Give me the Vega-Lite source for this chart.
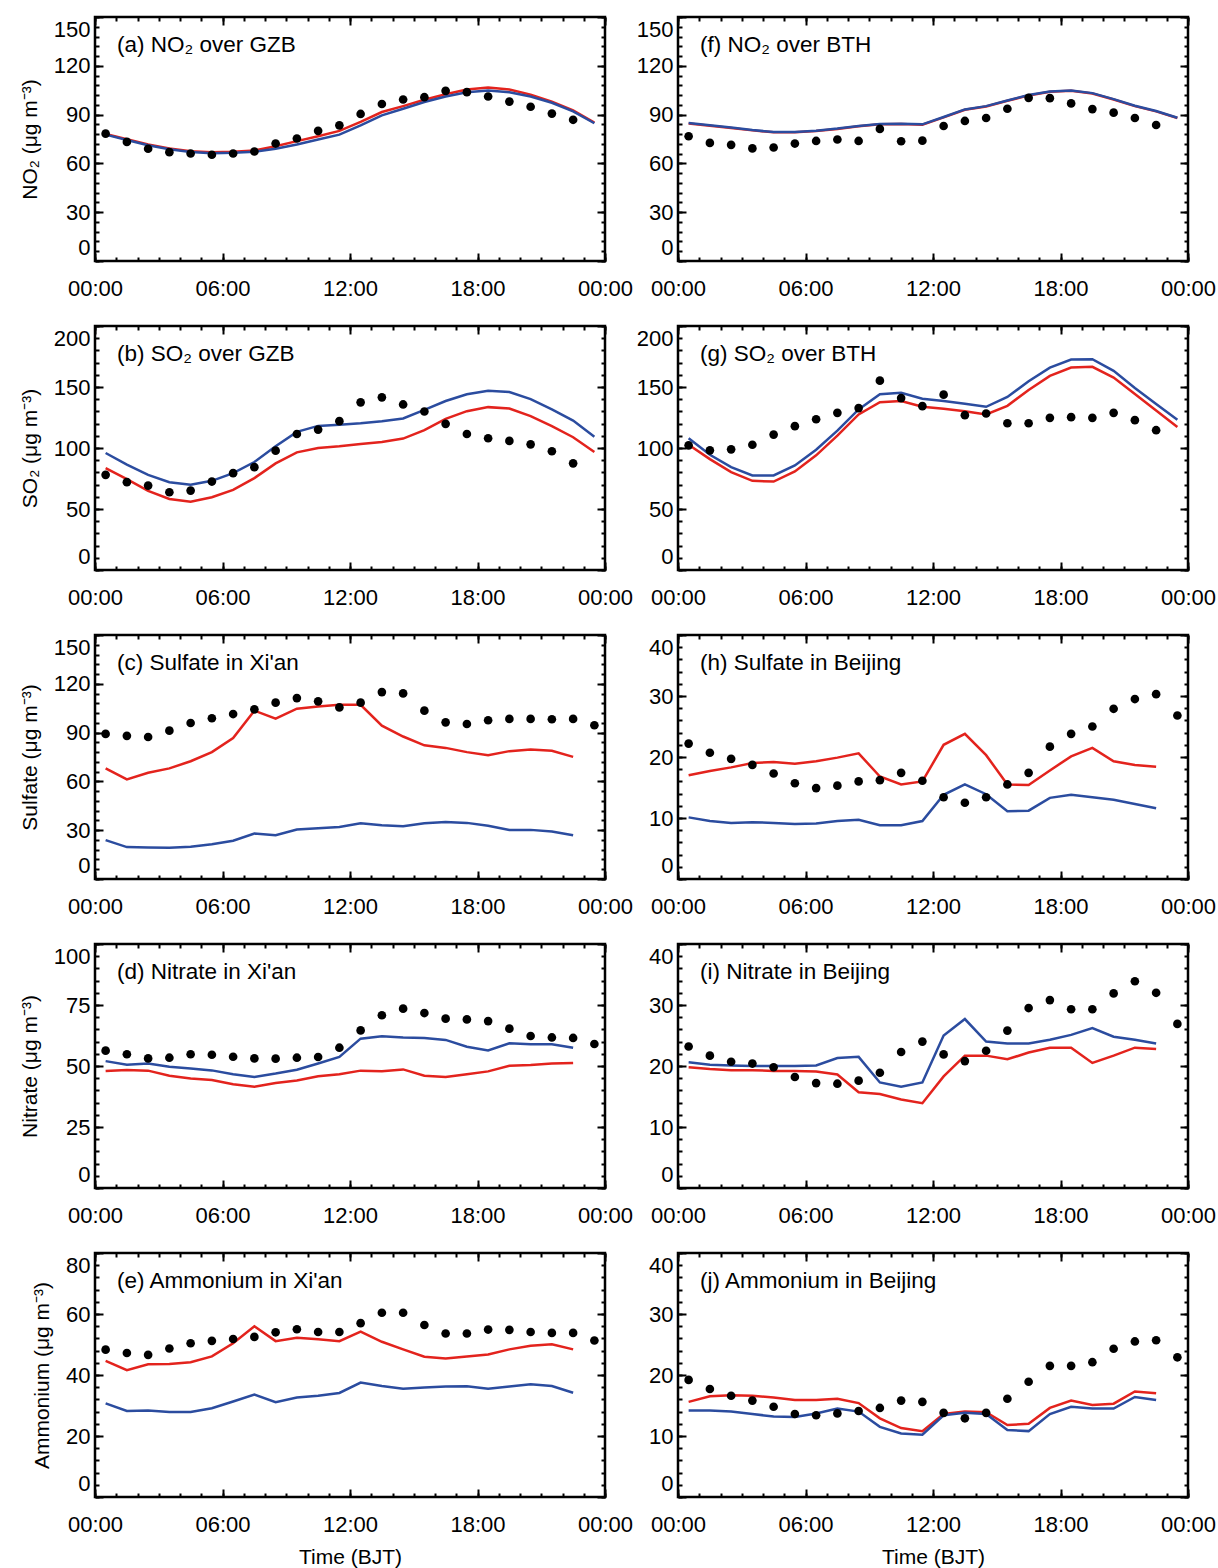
{
  "$schema": "https://vega.github.io/schema/vega-lite/v6.json",
  "background": "white",
  "padding": {"left": 18, "top": 14, "right": 0, "bottom": 0},
  "config": {
    "font": "Liberation Sans",
    "view": {"stroke": "black", "strokeWidth": 2.5},
    "axis": {"grid": false, "domain": false, "tickColor": "black", "tickWidth": 2, "labelColor": "black", "labelFont": "Liberation Sans", "labelFontSize": 22, "titleFont": "Liberation Sans", "titleFontSize": 21, "titleFontWeight": "normal", "titleColor": "black"},
    "axisX": {"labelPadding": 25, "labelFlush": false, "titlePadding": 11},
    "axisY": {"labelPadding": 13, "labelFlush": true, "labelFlushOffset": -2, "titlePadding": 13},
    "title": {"anchor": "start", "frame": "group", "offset": -40, "dx": 22, "baseline": "alphabetic", "fontSize": 22.5, "fontWeight": "normal", "font": "Liberation Sans", "color": "black"}
  },
  "datasets": {
    "d": [
      {"p":"a","h":0.5,"o":78.3,"r":78.1,"b":77.7},{"p":"a","h":1.5,"o":73.2,"r":74.9,"b":74.4},{"p":"a","h":2.5,"o":69.0,"r":71.6,"b":71.2},{"p":"a","h":3.5,"o":66.9,"r":69.2,"b":68.7},{"p":"a","h":4.5,"o":66.1,"r":67.5,"b":67.0},{"p":"a","h":5.5,"o":65.3,"r":66.9,"b":66.3},{"p":"a","h":6.5,"o":66.1,"r":67.1,"b":66.5},{"p":"a","h":7.5,"o":67.3,"r":68.0,"b":67.1},{"p":"a","h":8.5,"o":72.2,"r":70.6,"b":69.0},{"p":"a","h":9.5,"o":75.3,"r":73.7,"b":71.6},{"p":"a","h":10.5,"o":80.0,"r":76.7,"b":74.7},{"p":"a","h":11.5,"o":83.4,"r":80.0,"b":77.7},{"p":"a","h":12.5,"o":90.4,"r":85.5,"b":83.4},{"p":"a","h":13.5,"o":96.5,"r":91.6,"b":89.5},{"p":"a","h":14.5,"o":99.3,"r":95.2,"b":93.6},{"p":"a","h":15.5,"o":100.7,"r":99.1,"b":97.7},{"p":"a","h":16.5,"o":104.6,"r":102.5,"b":101.1},{"p":"a","h":17.5,"o":103.8,"r":105.4,"b":103.8},{"p":"a","h":18.5,"o":101.1,"r":106.6,"b":104.8},{"p":"a","h":19.5,"o":98.0,"r":105.4,"b":103.8},{"p":"a","h":20.5,"o":94.8,"r":102.3,"b":101.1},{"p":"a","h":21.5,"o":90.6,"r":98.0,"b":97.3},{"p":"a","h":22.5,"o":86.8,"r":92.6,"b":92.0},{"p":"a","h":23.5,"o":null,"r":85.1,"b":84.7},
      {"p":"f","h":0.5,"o":76.7,"r":84.6,"b":84.8},{"p":"f","h":1.5,"o":72.6,"r":83.2,"b":83.4},{"p":"f","h":2.5,"o":71.4,"r":81.8,"b":82.0},{"p":"f","h":3.5,"o":69.2,"r":80.3,"b":80.5},{"p":"f","h":4.5,"o":69.8,"r":79.1,"b":79.3},{"p":"f","h":5.5,"o":72.2,"r":79.1,"b":79.3},{"p":"f","h":6.5,"o":73.8,"r":79.9,"b":80.1},{"p":"f","h":7.5,"o":74.7,"r":81.2,"b":81.4},{"p":"f","h":8.5,"o":73.8,"r":82.8,"b":83.0},{"p":"f","h":9.5,"o":81.2,"r":84.0,"b":84.2},{"p":"f","h":10.5,"o":73.6,"r":84.2,"b":84.4},{"p":"f","h":11.5,"o":74.0,"r":83.8,"b":84.0},{"p":"f","h":12.5,"o":83.0,"r":88.3,"b":88.5},{"p":"f","h":13.5,"o":86.1,"r":93.0,"b":93.2},{"p":"f","h":14.5,"o":87.9,"r":95.0,"b":95.2},{"p":"f","h":15.5,"o":93.6,"r":98.5,"b":98.7},{"p":"f","h":16.5,"o":100.3,"r":101.8,"b":102.0},{"p":"f","h":17.5,"o":100.1,"r":104.0,"b":104.2},{"p":"f","h":18.5,"o":96.9,"r":104.6,"b":104.8},{"p":"f","h":19.5,"o":93.4,"r":103.0,"b":103.2},{"p":"f","h":20.5,"o":91.2,"r":99.3,"b":99.5},{"p":"f","h":21.5,"o":87.9,"r":95.2,"b":95.4},{"p":"f","h":22.5,"o":83.6,"r":92.0,"b":92.2},{"p":"f","h":23.5,"o":null,"r":87.9,"b":88.1},
      {"p":"b","h":0.5,"o":78.0,"r":83.5,"b":95.9},{"p":"b","h":1.5,"o":72.0,"r":74.5,"b":86.3},{"p":"b","h":2.5,"o":69.2,"r":64.8,"b":78.0},{"p":"b","h":3.5,"o":63.7,"r":58.2,"b":72.0},{"p":"b","h":4.5,"o":65.1,"r":56.0,"b":69.8},{"p":"b","h":5.5,"o":72.5,"r":59.6,"b":73.1},{"p":"b","h":6.5,"o":79.4,"r":65.7,"b":79.4},{"p":"b","h":7.5,"o":84.3,"r":75.3,"b":88.5},{"p":"b","h":8.5,"o":97.8,"r":87.4,"b":101.4},{"p":"b","h":9.5,"o":111.5,"r":96.4,"b":113.2},{"p":"b","h":10.5,"o":115.1,"r":100.0,"b":118.1},{"p":"b","h":11.5,"o":122.0,"r":101.4,"b":119.0},{"p":"b","h":12.5,"o":137.4,"r":103.3,"b":120.3},{"p":"b","h":13.5,"o":141.5,"r":104.9,"b":122.0},{"p":"b","h":14.5,"o":135.7,"r":107.7,"b":124.2},{"p":"b","h":15.5,"o":129.9,"r":114.6,"b":131.3},{"p":"b","h":16.5,"o":119.8,"r":123.9,"b":138.5},{"p":"b","h":17.5,"o":111.5,"r":130.2,"b":144.0},{"p":"b","h":18.5,"o":108.0,"r":133.5,"b":147.0},{"p":"b","h":19.5,"o":105.8,"r":132.4,"b":145.9},{"p":"b","h":20.5,"o":103.0,"r":126.1,"b":140.1},{"p":"b","h":21.5,"o":97.3,"r":117.9,"b":131.6},{"p":"b","h":22.5,"o":87.4,"r":108.8,"b":122.5},{"p":"b","h":23.5,"o":null,"r":96.7,"b":109.3},
      {"p":"g","h":0.5,"o":102.2,"r":102.7,"b":108.0},{"p":"g","h":1.5,"o":98.1,"r":90.9,"b":94.5},{"p":"g","h":2.5,"o":98.9,"r":80.2,"b":84.3},{"p":"g","h":3.5,"o":102.7,"r":73.1,"b":77.5},{"p":"g","h":4.5,"o":111.0,"r":72.5,"b":77.5},{"p":"g","h":5.5,"o":117.9,"r":80.8,"b":85.7},{"p":"g","h":6.5,"o":123.6,"r":94.0,"b":98.6},{"p":"g","h":7.5,"o":128.8,"r":110.2,"b":114.3},{"p":"g","h":8.5,"o":132.7,"r":127.5,"b":131.6},{"p":"g","h":9.5,"o":155.2,"r":137.6,"b":144.0},{"p":"g","h":10.5,"o":140.9,"r":138.5,"b":145.3},{"p":"g","h":11.5,"o":134.3,"r":133.8,"b":140.4},{"p":"g","h":12.5,"o":143.7,"r":132.1,"b":138.5},{"p":"g","h":13.5,"o":126.9,"r":130.2,"b":136.3},{"p":"g","h":14.5,"o":128.3,"r":127.5,"b":133.8},{"p":"g","h":15.5,"o":120.3,"r":134.6,"b":141.8},{"p":"g","h":16.5,"o":120.3,"r":147.5,"b":154.7},{"p":"g","h":17.5,"o":124.7,"r":159.1,"b":165.9},{"p":"g","h":18.5,"o":125.3,"r":165.9,"b":172.5},{"p":"g","h":19.5,"o":124.7,"r":166.5,"b":172.8},{"p":"g","h":20.5,"o":128.8,"r":157.7,"b":163.2},{"p":"g","h":21.5,"o":122.8,"r":144.2,"b":149.2},{"p":"g","h":22.5,"o":114.6,"r":130.8,"b":136.0},{"p":"g","h":23.5,"o":null,"r":117.3,"b":123.1},
      {"p":"c","h":0.5,"o":89.2,"r":68.0,"b":23.9},{"p":"c","h":1.5,"o":88.0,"r":61.2,"b":19.6},{"p":"c","h":2.5,"o":87.3,"r":65.3,"b":19.4},{"p":"c","h":3.5,"o":91.2,"r":68.0,"b":19.2},{"p":"c","h":4.5,"o":95.9,"r":72.4,"b":19.8},{"p":"c","h":5.5,"o":98.8,"r":78.0,"b":21.4},{"p":"c","h":6.5,"o":101.4,"r":86.7,"b":23.5},{"p":"c","h":7.5,"o":104.3,"r":103.5,"b":28.0},{"p":"c","h":8.5,"o":108.4,"r":98.6,"b":26.9},{"p":"c","h":9.5,"o":111.2,"r":104.7,"b":30.4},{"p":"c","h":10.5,"o":109.2,"r":106.1,"b":31.2},{"p":"c","h":11.5,"o":105.5,"r":107.1,"b":32.0},{"p":"c","h":12.5,"o":108.4,"r":107.1,"b":34.3},{"p":"c","h":13.5,"o":114.9,"r":94.3,"b":33.1},{"p":"c","h":14.5,"o":114.1,"r":87.6,"b":32.4},{"p":"c","h":15.5,"o":103.5,"r":82.2,"b":34.3},{"p":"c","h":16.5,"o":96.3,"r":80.6,"b":35.1},{"p":"c","h":17.5,"o":95.3,"r":78.0,"b":34.5},{"p":"c","h":18.5,"o":97.6,"r":76.1,"b":32.7},{"p":"c","h":19.5,"o":98.4,"r":78.6,"b":30.2},{"p":"c","h":20.5,"o":98.4,"r":79.6,"b":30.2},{"p":"c","h":21.5,"o":98.2,"r":78.8,"b":29.2},{"p":"c","h":22.5,"o":98.4,"r":75.1,"b":26.9},{"p":"c","h":23.5,"o":94.5,"r":null,"b":null},
      {"p":"h","h":0.5,"o":22.2,"r":17.0,"b":10.1},{"p":"h","h":1.5,"o":20.7,"r":17.7,"b":9.5},{"p":"h","h":2.5,"o":19.7,"r":18.3,"b":9.2},{"p":"h","h":3.5,"o":18.7,"r":19.0,"b":9.3},{"p":"h","h":4.5,"o":17.3,"r":19.2,"b":9.2},{"p":"h","h":5.5,"o":15.7,"r":18.9,"b":9.0},{"p":"h","h":6.5,"o":14.9,"r":19.3,"b":9.1},{"p":"h","h":7.5,"o":15.3,"r":19.9,"b":9.5},{"p":"h","h":8.5,"o":16.0,"r":20.6,"b":9.7},{"p":"h","h":9.5,"o":16.2,"r":16.8,"b":8.8},{"p":"h","h":10.5,"o":17.4,"r":15.5,"b":8.8},{"p":"h","h":11.5,"o":16.1,"r":16.0,"b":9.5},{"p":"h","h":12.5,"o":13.4,"r":22.0,"b":13.8},{"p":"h","h":13.5,"o":12.5,"r":23.8,"b":15.5},{"p":"h","h":14.5,"o":13.4,"r":20.3,"b":13.9},{"p":"h","h":15.5,"o":15.5,"r":15.5,"b":11.1},{"p":"h","h":16.5,"o":17.4,"r":15.4,"b":11.2},{"p":"h","h":17.5,"o":21.7,"r":17.8,"b":13.3},{"p":"h","h":18.5,"o":23.8,"r":20.1,"b":13.8},{"p":"h","h":19.5,"o":25.0,"r":21.5,"b":13.4},{"p":"h","h":20.5,"o":27.9,"r":19.3,"b":13.0},{"p":"h","h":21.5,"o":29.5,"r":18.7,"b":12.3},{"p":"h","h":22.5,"o":30.3,"r":18.4,"b":11.6},{"p":"h","h":23.5,"o":26.8,"r":null,"b":null},
      {"p":"d","h":0.5,"o":56.3,"r":48.0,"b":52.0},{"p":"d","h":1.5,"o":54.8,"r":48.4,"b":50.5},{"p":"d","h":2.5,"o":53.1,"r":48.1,"b":51.0},{"p":"d","h":3.5,"o":53.4,"r":46.0,"b":49.7},{"p":"d","h":4.5,"o":54.8,"r":44.9,"b":49.0},{"p":"d","h":5.5,"o":54.6,"r":44.3,"b":48.2},{"p":"d","h":6.5,"o":53.8,"r":42.5,"b":46.6},{"p":"d","h":7.5,"o":53.1,"r":41.5,"b":45.5},{"p":"d","h":8.5,"o":53.0,"r":43.0,"b":46.9},{"p":"d","h":9.5,"o":53.4,"r":44.1,"b":48.5},{"p":"d","h":10.5,"o":53.7,"r":45.8,"b":51.0},{"p":"d","h":11.5,"o":57.5,"r":46.6,"b":53.7},{"p":"d","h":12.5,"o":64.6,"r":48.1,"b":61.2},{"p":"d","h":13.5,"o":70.8,"r":47.8,"b":62.2},{"p":"d","h":14.5,"o":73.5,"r":48.6,"b":61.7},{"p":"d","h":15.5,"o":71.7,"r":46.0,"b":61.5},{"p":"d","h":16.5,"o":69.4,"r":45.5,"b":60.7},{"p":"d","h":17.5,"o":69.1,"r":46.6,"b":57.9},{"p":"d","h":18.5,"o":68.4,"r":47.8,"b":56.4},{"p":"d","h":19.5,"o":65.3,"r":50.1,"b":59.3},{"p":"d","h":20.5,"o":62.3,"r":50.4,"b":58.9},{"p":"d","h":21.5,"o":61.7,"r":51.0,"b":58.9},{"p":"d","h":22.5,"o":61.5,"r":51.2,"b":57.5},{"p":"d","h":23.5,"o":59.0,"r":null,"b":null},
      {"p":"i","h":0.5,"o":23.2,"r":19.8,"b":20.6},{"p":"i","h":1.5,"o":21.7,"r":19.5,"b":20.2},{"p":"i","h":2.5,"o":20.7,"r":19.3,"b":20.1},{"p":"i","h":3.5,"o":20.4,"r":19.3,"b":20.0},{"p":"i","h":4.5,"o":19.8,"r":19.2,"b":20.0},{"p":"i","h":5.5,"o":18.2,"r":19.2,"b":20.0},{"p":"i","h":6.5,"o":17.2,"r":19.1,"b":20.1},{"p":"i","h":7.5,"o":17.1,"r":18.6,"b":21.3},{"p":"i","h":8.5,"o":17.6,"r":15.7,"b":21.5},{"p":"i","h":9.5,"o":18.9,"r":15.4,"b":17.3},{"p":"i","h":10.5,"o":22.3,"r":14.5,"b":16.6},{"p":"i","h":11.5,"o":24.0,"r":13.9,"b":17.3},{"p":"i","h":12.5,"o":21.9,"r":18.3,"b":25.0},{"p":"i","h":13.5,"o":20.8,"r":21.7,"b":27.7},{"p":"i","h":14.5,"o":22.5,"r":21.7,"b":24.0},{"p":"i","h":15.5,"o":25.8,"r":21.1,"b":23.7},{"p":"i","h":16.5,"o":29.5,"r":22.2,"b":23.7},{"p":"i","h":17.5,"o":30.8,"r":23.0,"b":24.3},{"p":"i","h":18.5,"o":29.3,"r":23.0,"b":25.1},{"p":"i","h":19.5,"o":29.3,"r":20.5,"b":26.2},{"p":"i","h":20.5,"o":31.9,"r":21.7,"b":24.8},{"p":"i","h":21.5,"o":33.9,"r":23.0,"b":24.3},{"p":"i","h":22.5,"o":32.0,"r":22.8,"b":23.7},{"p":"i","h":23.5,"o":26.9,"r":null,"b":null},
      {"p":"e","h":0.5,"o":48.3,"r":44.6,"b":30.7},{"p":"e","h":1.5,"o":47.2,"r":41.6,"b":28.2},{"p":"e","h":2.5,"o":46.6,"r":43.5,"b":28.4},{"p":"e","h":3.5,"o":48.7,"r":43.6,"b":27.9},{"p":"e","h":4.5,"o":50.4,"r":44.2,"b":27.9},{"p":"e","h":5.5,"o":51.2,"r":46.1,"b":29.1},{"p":"e","h":6.5,"o":51.8,"r":50.4,"b":31.3},{"p":"e","h":7.5,"o":52.5,"r":56.0,"b":33.6},{"p":"e","h":8.5,"o":54.0,"r":51.1,"b":31.1},{"p":"e","h":9.5,"o":55.0,"r":52.2,"b":32.6},{"p":"e","h":10.5,"o":54.1,"r":51.7,"b":33.2},{"p":"e","h":11.5,"o":54.1,"r":51.1,"b":34.1},{"p":"e","h":12.5,"o":57.0,"r":54.2,"b":37.5},{"p":"e","h":13.5,"o":60.4,"r":50.9,"b":36.4},{"p":"e","h":14.5,"o":60.4,"r":48.4,"b":35.5},{"p":"e","h":15.5,"o":56.4,"r":46.0,"b":35.9},{"p":"e","h":16.5,"o":53.6,"r":45.4,"b":36.2},{"p":"e","h":17.5,"o":53.6,"r":46.1,"b":36.3},{"p":"e","h":18.5,"o":54.9,"r":46.7,"b":35.5},{"p":"e","h":19.5,"o":54.8,"r":48.4,"b":36.2},{"p":"e","h":20.5,"o":54.1,"r":49.6,"b":37.0},{"p":"e","h":21.5,"o":53.8,"r":50.1,"b":36.4},{"p":"e","h":22.5,"o":53.8,"r":48.4,"b":34.2},{"p":"e","h":23.5,"o":51.3,"r":null,"b":null},
      {"p":"j","h":0.5,"o":19.2,"r":15.6,"b":14.2},{"p":"j","h":1.5,"o":17.7,"r":16.5,"b":14.2},{"p":"j","h":2.5,"o":16.6,"r":16.7,"b":14.0},{"p":"j","h":3.5,"o":15.8,"r":16.6,"b":13.6},{"p":"j","h":4.5,"o":14.8,"r":16.3,"b":13.2},{"p":"j","h":5.5,"o":13.6,"r":15.9,"b":13.1},{"p":"j","h":6.5,"o":13.4,"r":15.9,"b":13.7},{"p":"j","h":7.5,"o":13.7,"r":16.1,"b":14.5},{"p":"j","h":8.5,"o":14.1,"r":15.4,"b":14.0},{"p":"j","h":9.5,"o":14.6,"r":12.9,"b":11.5},{"p":"j","h":10.5,"o":15.8,"r":11.3,"b":10.4},{"p":"j","h":11.5,"o":15.6,"r":10.8,"b":10.2},{"p":"j","h":12.5,"o":13.8,"r":13.6,"b":13.4},{"p":"j","h":13.5,"o":12.9,"r":14.0,"b":13.8},{"p":"j","h":14.5,"o":13.8,"r":13.9,"b":13.6},{"p":"j","h":15.5,"o":16.1,"r":11.8,"b":11.0},{"p":"j","h":16.5,"o":18.9,"r":12.0,"b":10.8},{"p":"j","h":17.5,"o":21.5,"r":14.6,"b":13.6},{"p":"j","h":18.5,"o":21.5,"r":15.8,"b":14.8},{"p":"j","h":19.5,"o":22.1,"r":15.1,"b":14.5},{"p":"j","h":20.5,"o":24.3,"r":15.3,"b":14.5},{"p":"j","h":21.5,"o":25.5,"r":17.3,"b":16.4},{"p":"j","h":22.5,"o":25.7,"r":17.0,"b":15.9},{"p":"j","h":23.5,"o":22.9,"r":null,"b":null}
    ]
  },
  "columns": 2,
  "spacing": {"row": 65, "column": 73},
  "bounds": "flush",
  "concat": [
    {"width":510,"height":244,"title":{"text":"(a) NO₂ over GZB"},"data":{"name":"d"},"transform":[{"filter":"datum.p=='a'"}],
     "layer":[
      {"mark":{"type":"line","color":"#e3231d","strokeWidth":2.5},"encoding":{"x":{"field":"h","type":"quantitative","scale":{"domain":[0,24],"nice":false},"axis":{"orient":"bottom","values":[0,6,12,18,24],"tickSize":-8,"labelExpr":"['00:00','06:00','12:00','18:00','00:00'][datum.value/6]","title":null}},"y":{"field":"r","type":"quantitative","scale":{"domain":[0,150],"nice":false},"axis":{"orient":"left","values":[0,30,60,90,120,150],"tickSize":-8,"title":"NO₂ (μg m⁻³)"}}}},
      {"mark":{"type":"line","color":"#2b4c9f","strokeWidth":2.5},"encoding":{"x":{"field":"h","type":"quantitative","axis":{"orient":"bottom","values":[0,1,2,3,4,5,6,7,8,9,10,11,12,13,14,15,16,17,18,19,20,21,22,23,24],"tickSize":-4,"labels":false,"title":null}},"y":{"field":"b","type":"quantitative","axis":{"orient":"left","values":[0,6,12,18,24,30,36,42,48,54,60,66,72,78,84,90,96,102,108,114,120,126,132,138,144,150],"tickSize":-4,"labels":false,"title":null}}}},
      {"mark":{"type":"point","filled":true,"color":"black","size":75,"opacity":1},"encoding":{"x":{"field":"h","type":"quantitative","axis":{"orient":"top","values":[0,6,12,18,24],"tickSize":-8,"labels":false,"title":null}},"y":{"field":"o","type":"quantitative","axis":{"orient":"right","values":[0,30,60,90,120,150],"tickSize":-8,"labels":false,"title":null}}}},
      {"mark":{"type":"point","opacity":0},"encoding":{"x":{"field":"h","type":"quantitative","axis":{"orient":"top","values":[0,1,2,3,4,5,6,7,8,9,10,11,12,13,14,15,16,17,18,19,20,21,22,23,24],"tickSize":-4,"labels":false,"title":null}},"y":{"field":"o","type":"quantitative","axis":{"orient":"right","values":[0,6,12,18,24,30,36,42,48,54,60,66,72,78,84,90,96,102,108,114,120,126,132,138,144,150],"tickSize":-4,"labels":false,"title":null}}}}
     ],"resolve":{"axis":{"x":"independent","y":"independent"}}},
    {"width":510,"height":244,"title":{"text":"(f) NO₂ over BTH"},"data":{"name":"d"},"transform":[{"filter":"datum.p=='f'"}],
     "layer":[
      {"mark":{"type":"line","color":"#e3231d","strokeWidth":2.5},"encoding":{"x":{"field":"h","type":"quantitative","scale":{"domain":[0,24],"nice":false},"axis":{"orient":"bottom","values":[0,6,12,18,24],"tickSize":-8,"labelExpr":"['00:00','06:00','12:00','18:00','00:00'][datum.value/6]","title":null}},"y":{"field":"r","type":"quantitative","scale":{"domain":[0,150],"nice":false},"axis":{"orient":"left","values":[0,30,60,90,120,150],"tickSize":-8,"title":null}}}},
      {"mark":{"type":"line","color":"#2b4c9f","strokeWidth":2.5},"encoding":{"x":{"field":"h","type":"quantitative","axis":{"orient":"bottom","values":[0,1,2,3,4,5,6,7,8,9,10,11,12,13,14,15,16,17,18,19,20,21,22,23,24],"tickSize":-4,"labels":false,"title":null}},"y":{"field":"b","type":"quantitative","axis":{"orient":"left","values":[0,6,12,18,24,30,36,42,48,54,60,66,72,78,84,90,96,102,108,114,120,126,132,138,144,150],"tickSize":-4,"labels":false,"title":null}}}},
      {"mark":{"type":"point","filled":true,"color":"black","size":75,"opacity":1},"encoding":{"x":{"field":"h","type":"quantitative","axis":{"orient":"top","values":[0,6,12,18,24],"tickSize":-8,"labels":false,"title":null}},"y":{"field":"o","type":"quantitative","axis":{"orient":"right","values":[0,30,60,90,120,150],"tickSize":-8,"labels":false,"title":null}}}},
      {"mark":{"type":"point","opacity":0},"encoding":{"x":{"field":"h","type":"quantitative","axis":{"orient":"top","values":[0,1,2,3,4,5,6,7,8,9,10,11,12,13,14,15,16,17,18,19,20,21,22,23,24],"tickSize":-4,"labels":false,"title":null}},"y":{"field":"o","type":"quantitative","axis":{"orient":"right","values":[0,6,12,18,24,30,36,42,48,54,60,66,72,78,84,90,96,102,108,114,120,126,132,138,144,150],"tickSize":-4,"labels":false,"title":null}}}}
     ],"resolve":{"axis":{"x":"independent","y":"independent"}}},
    {"width":510,"height":244,"title":{"text":"(b) SO₂ over GZB"},"data":{"name":"d"},"transform":[{"filter":"datum.p=='b'"}],
     "layer":[
      {"mark":{"type":"line","color":"#e3231d","strokeWidth":2.5},"encoding":{"x":{"field":"h","type":"quantitative","scale":{"domain":[0,24],"nice":false},"axis":{"orient":"bottom","values":[0,6,12,18,24],"tickSize":-8,"labelExpr":"['00:00','06:00','12:00','18:00','00:00'][datum.value/6]","title":null}},"y":{"field":"r","type":"quantitative","scale":{"domain":[0,200],"nice":false},"axis":{"orient":"left","values":[0,50,100,150,200],"tickSize":-8,"title":"SO₂ (μg m⁻³)"}}}},
      {"mark":{"type":"line","color":"#2b4c9f","strokeWidth":2.5},"encoding":{"x":{"field":"h","type":"quantitative","axis":{"orient":"bottom","values":[0,1,2,3,4,5,6,7,8,9,10,11,12,13,14,15,16,17,18,19,20,21,22,23,24],"tickSize":-4,"labels":false,"title":null}},"y":{"field":"b","type":"quantitative","axis":{"orient":"left","values":[0,10,20,30,40,50,60,70,80,90,100,110,120,130,140,150,160,170,180,190,200],"tickSize":-4,"labels":false,"title":null}}}},
      {"mark":{"type":"point","filled":true,"color":"black","size":75,"opacity":1},"encoding":{"x":{"field":"h","type":"quantitative","axis":{"orient":"top","values":[0,6,12,18,24],"tickSize":-8,"labels":false,"title":null}},"y":{"field":"o","type":"quantitative","axis":{"orient":"right","values":[0,50,100,150,200],"tickSize":-8,"labels":false,"title":null}}}},
      {"mark":{"type":"point","opacity":0},"encoding":{"x":{"field":"h","type":"quantitative","axis":{"orient":"top","values":[0,1,2,3,4,5,6,7,8,9,10,11,12,13,14,15,16,17,18,19,20,21,22,23,24],"tickSize":-4,"labels":false,"title":null}},"y":{"field":"o","type":"quantitative","axis":{"orient":"right","values":[0,10,20,30,40,50,60,70,80,90,100,110,120,130,140,150,160,170,180,190,200],"tickSize":-4,"labels":false,"title":null}}}}
     ],"resolve":{"axis":{"x":"independent","y":"independent"}}},
    {"width":510,"height":244,"title":{"text":"(g) SO₂ over BTH"},"data":{"name":"d"},"transform":[{"filter":"datum.p=='g'"}],
     "layer":[
      {"mark":{"type":"line","color":"#e3231d","strokeWidth":2.5},"encoding":{"x":{"field":"h","type":"quantitative","scale":{"domain":[0,24],"nice":false},"axis":{"orient":"bottom","values":[0,6,12,18,24],"tickSize":-8,"labelExpr":"['00:00','06:00','12:00','18:00','00:00'][datum.value/6]","title":null}},"y":{"field":"r","type":"quantitative","scale":{"domain":[0,200],"nice":false},"axis":{"orient":"left","values":[0,50,100,150,200],"tickSize":-8,"title":null}}}},
      {"mark":{"type":"line","color":"#2b4c9f","strokeWidth":2.5},"encoding":{"x":{"field":"h","type":"quantitative","axis":{"orient":"bottom","values":[0,1,2,3,4,5,6,7,8,9,10,11,12,13,14,15,16,17,18,19,20,21,22,23,24],"tickSize":-4,"labels":false,"title":null}},"y":{"field":"b","type":"quantitative","axis":{"orient":"left","values":[0,10,20,30,40,50,60,70,80,90,100,110,120,130,140,150,160,170,180,190,200],"tickSize":-4,"labels":false,"title":null}}}},
      {"mark":{"type":"point","filled":true,"color":"black","size":75,"opacity":1},"encoding":{"x":{"field":"h","type":"quantitative","axis":{"orient":"top","values":[0,6,12,18,24],"tickSize":-8,"labels":false,"title":null}},"y":{"field":"o","type":"quantitative","axis":{"orient":"right","values":[0,50,100,150,200],"tickSize":-8,"labels":false,"title":null}}}},
      {"mark":{"type":"point","opacity":0},"encoding":{"x":{"field":"h","type":"quantitative","axis":{"orient":"top","values":[0,1,2,3,4,5,6,7,8,9,10,11,12,13,14,15,16,17,18,19,20,21,22,23,24],"tickSize":-4,"labels":false,"title":null}},"y":{"field":"o","type":"quantitative","axis":{"orient":"right","values":[0,10,20,30,40,50,60,70,80,90,100,110,120,130,140,150,160,170,180,190,200],"tickSize":-4,"labels":false,"title":null}}}}
     ],"resolve":{"axis":{"x":"independent","y":"independent"}}},
    {"width":510,"height":244,"title":{"text":"(c) Sulfate in Xi'an"},"data":{"name":"d"},"transform":[{"filter":"datum.p=='c'"}],
     "layer":[
      {"mark":{"type":"line","color":"#e3231d","strokeWidth":2.5},"encoding":{"x":{"field":"h","type":"quantitative","scale":{"domain":[0,24],"nice":false},"axis":{"orient":"bottom","values":[0,6,12,18,24],"tickSize":-8,"labelExpr":"['00:00','06:00','12:00','18:00','00:00'][datum.value/6]","title":null}},"y":{"field":"r","type":"quantitative","scale":{"domain":[0,150],"nice":false},"axis":{"orient":"left","values":[0,30,60,90,120,150],"tickSize":-8,"title":"Sulfate (μg m⁻³)"}}}},
      {"mark":{"type":"line","color":"#2b4c9f","strokeWidth":2.5},"encoding":{"x":{"field":"h","type":"quantitative","axis":{"orient":"bottom","values":[0,1,2,3,4,5,6,7,8,9,10,11,12,13,14,15,16,17,18,19,20,21,22,23,24],"tickSize":-4,"labels":false,"title":null}},"y":{"field":"b","type":"quantitative","axis":{"orient":"left","values":[0,6,12,18,24,30,36,42,48,54,60,66,72,78,84,90,96,102,108,114,120,126,132,138,144,150],"tickSize":-4,"labels":false,"title":null}}}},
      {"mark":{"type":"point","filled":true,"color":"black","size":75,"opacity":1},"encoding":{"x":{"field":"h","type":"quantitative","axis":{"orient":"top","values":[0,6,12,18,24],"tickSize":-8,"labels":false,"title":null}},"y":{"field":"o","type":"quantitative","axis":{"orient":"right","values":[0,30,60,90,120,150],"tickSize":-8,"labels":false,"title":null}}}},
      {"mark":{"type":"point","opacity":0},"encoding":{"x":{"field":"h","type":"quantitative","axis":{"orient":"top","values":[0,1,2,3,4,5,6,7,8,9,10,11,12,13,14,15,16,17,18,19,20,21,22,23,24],"tickSize":-4,"labels":false,"title":null}},"y":{"field":"o","type":"quantitative","axis":{"orient":"right","values":[0,6,12,18,24,30,36,42,48,54,60,66,72,78,84,90,96,102,108,114,120,126,132,138,144,150],"tickSize":-4,"labels":false,"title":null}}}}
     ],"resolve":{"axis":{"x":"independent","y":"independent"}}},
    {"width":510,"height":244,"title":{"text":"(h) Sulfate in Beijing"},"data":{"name":"d"},"transform":[{"filter":"datum.p=='h'"}],
     "layer":[
      {"mark":{"type":"line","color":"#e3231d","strokeWidth":2.5},"encoding":{"x":{"field":"h","type":"quantitative","scale":{"domain":[0,24],"nice":false},"axis":{"orient":"bottom","values":[0,6,12,18,24],"tickSize":-8,"labelExpr":"['00:00','06:00','12:00','18:00','00:00'][datum.value/6]","title":null}},"y":{"field":"r","type":"quantitative","scale":{"domain":[0,40],"nice":false},"axis":{"orient":"left","values":[0,10,20,30,40],"tickSize":-8,"title":null}}}},
      {"mark":{"type":"line","color":"#2b4c9f","strokeWidth":2.5},"encoding":{"x":{"field":"h","type":"quantitative","axis":{"orient":"bottom","values":[0,1,2,3,4,5,6,7,8,9,10,11,12,13,14,15,16,17,18,19,20,21,22,23,24],"tickSize":-4,"labels":false,"title":null}},"y":{"field":"b","type":"quantitative","axis":{"orient":"left","values":[0,2,4,6,8,10,12,14,16,18,20,22,24,26,28,30,32,34,36,38,40],"tickSize":-4,"labels":false,"title":null}}}},
      {"mark":{"type":"point","filled":true,"color":"black","size":75,"opacity":1},"encoding":{"x":{"field":"h","type":"quantitative","axis":{"orient":"top","values":[0,6,12,18,24],"tickSize":-8,"labels":false,"title":null}},"y":{"field":"o","type":"quantitative","axis":{"orient":"right","values":[0,10,20,30,40],"tickSize":-8,"labels":false,"title":null}}}},
      {"mark":{"type":"point","opacity":0},"encoding":{"x":{"field":"h","type":"quantitative","axis":{"orient":"top","values":[0,1,2,3,4,5,6,7,8,9,10,11,12,13,14,15,16,17,18,19,20,21,22,23,24],"tickSize":-4,"labels":false,"title":null}},"y":{"field":"o","type":"quantitative","axis":{"orient":"right","values":[0,2,4,6,8,10,12,14,16,18,20,22,24,26,28,30,32,34,36,38,40],"tickSize":-4,"labels":false,"title":null}}}}
     ],"resolve":{"axis":{"x":"independent","y":"independent"}}},
    {"width":510,"height":244,"title":{"text":"(d) Nitrate in Xi'an"},"data":{"name":"d"},"transform":[{"filter":"datum.p=='d'"}],
     "layer":[
      {"mark":{"type":"line","color":"#e3231d","strokeWidth":2.5},"encoding":{"x":{"field":"h","type":"quantitative","scale":{"domain":[0,24],"nice":false},"axis":{"orient":"bottom","values":[0,6,12,18,24],"tickSize":-8,"labelExpr":"['00:00','06:00','12:00','18:00','00:00'][datum.value/6]","title":null}},"y":{"field":"r","type":"quantitative","scale":{"domain":[0,100],"nice":false},"axis":{"orient":"left","values":[0,25,50,75,100],"tickSize":-8,"title":"Nitrate (μg m⁻³)"}}}},
      {"mark":{"type":"line","color":"#2b4c9f","strokeWidth":2.5},"encoding":{"x":{"field":"h","type":"quantitative","axis":{"orient":"bottom","values":[0,1,2,3,4,5,6,7,8,9,10,11,12,13,14,15,16,17,18,19,20,21,22,23,24],"tickSize":-4,"labels":false,"title":null}},"y":{"field":"b","type":"quantitative","axis":{"orient":"left","values":[0,5,10,15,20,25,30,35,40,45,50,55,60,65,70,75,80,85,90,95,100],"tickSize":-4,"labels":false,"title":null}}}},
      {"mark":{"type":"point","filled":true,"color":"black","size":75,"opacity":1},"encoding":{"x":{"field":"h","type":"quantitative","axis":{"orient":"top","values":[0,6,12,18,24],"tickSize":-8,"labels":false,"title":null}},"y":{"field":"o","type":"quantitative","axis":{"orient":"right","values":[0,25,50,75,100],"tickSize":-8,"labels":false,"title":null}}}},
      {"mark":{"type":"point","opacity":0},"encoding":{"x":{"field":"h","type":"quantitative","axis":{"orient":"top","values":[0,1,2,3,4,5,6,7,8,9,10,11,12,13,14,15,16,17,18,19,20,21,22,23,24],"tickSize":-4,"labels":false,"title":null}},"y":{"field":"o","type":"quantitative","axis":{"orient":"right","values":[0,5,10,15,20,25,30,35,40,45,50,55,60,65,70,75,80,85,90,95,100],"tickSize":-4,"labels":false,"title":null}}}}
     ],"resolve":{"axis":{"x":"independent","y":"independent"}}},
    {"width":510,"height":244,"title":{"text":"(i) Nitrate in Beijing"},"data":{"name":"d"},"transform":[{"filter":"datum.p=='i'"}],
     "layer":[
      {"mark":{"type":"line","color":"#e3231d","strokeWidth":2.5},"encoding":{"x":{"field":"h","type":"quantitative","scale":{"domain":[0,24],"nice":false},"axis":{"orient":"bottom","values":[0,6,12,18,24],"tickSize":-8,"labelExpr":"['00:00','06:00','12:00','18:00','00:00'][datum.value/6]","title":null}},"y":{"field":"r","type":"quantitative","scale":{"domain":[0,40],"nice":false},"axis":{"orient":"left","values":[0,10,20,30,40],"tickSize":-8,"title":null}}}},
      {"mark":{"type":"line","color":"#2b4c9f","strokeWidth":2.5},"encoding":{"x":{"field":"h","type":"quantitative","axis":{"orient":"bottom","values":[0,1,2,3,4,5,6,7,8,9,10,11,12,13,14,15,16,17,18,19,20,21,22,23,24],"tickSize":-4,"labels":false,"title":null}},"y":{"field":"b","type":"quantitative","axis":{"orient":"left","values":[0,2,4,6,8,10,12,14,16,18,20,22,24,26,28,30,32,34,36,38,40],"tickSize":-4,"labels":false,"title":null}}}},
      {"mark":{"type":"point","filled":true,"color":"black","size":75,"opacity":1},"encoding":{"x":{"field":"h","type":"quantitative","axis":{"orient":"top","values":[0,6,12,18,24],"tickSize":-8,"labels":false,"title":null}},"y":{"field":"o","type":"quantitative","axis":{"orient":"right","values":[0,10,20,30,40],"tickSize":-8,"labels":false,"title":null}}}},
      {"mark":{"type":"point","opacity":0},"encoding":{"x":{"field":"h","type":"quantitative","axis":{"orient":"top","values":[0,1,2,3,4,5,6,7,8,9,10,11,12,13,14,15,16,17,18,19,20,21,22,23,24],"tickSize":-4,"labels":false,"title":null}},"y":{"field":"o","type":"quantitative","axis":{"orient":"right","values":[0,2,4,6,8,10,12,14,16,18,20,22,24,26,28,30,32,34,36,38,40],"tickSize":-4,"labels":false,"title":null}}}}
     ],"resolve":{"axis":{"x":"independent","y":"independent"}}},
    {"width":510,"height":244,"title":{"text":"(e) Ammonium in Xi'an"},"data":{"name":"d"},"transform":[{"filter":"datum.p=='e'"}],
     "layer":[
      {"mark":{"type":"line","color":"#e3231d","strokeWidth":2.5},"encoding":{"x":{"field":"h","type":"quantitative","scale":{"domain":[0,24],"nice":false},"axis":{"orient":"bottom","values":[0,6,12,18,24],"tickSize":-8,"labelExpr":"['00:00','06:00','12:00','18:00','00:00'][datum.value/6]","title":"Time (BJT)"}},"y":{"field":"r","type":"quantitative","scale":{"domain":[0,80],"nice":false},"axis":{"orient":"left","values":[0,20,40,60,80],"tickSize":-8,"title":"Ammonium (μg m⁻³)"}}}},
      {"mark":{"type":"line","color":"#2b4c9f","strokeWidth":2.5},"encoding":{"x":{"field":"h","type":"quantitative","axis":{"orient":"bottom","values":[0,1,2,3,4,5,6,7,8,9,10,11,12,13,14,15,16,17,18,19,20,21,22,23,24],"tickSize":-4,"labels":false,"title":null}},"y":{"field":"b","type":"quantitative","axis":{"orient":"left","values":[0,4,8,12,16,20,24,28,32,36,40,44,48,52,56,60,64,68,72,76,80],"tickSize":-4,"labels":false,"title":null}}}},
      {"mark":{"type":"point","filled":true,"color":"black","size":75,"opacity":1},"encoding":{"x":{"field":"h","type":"quantitative","axis":{"orient":"top","values":[0,6,12,18,24],"tickSize":-8,"labels":false,"title":null}},"y":{"field":"o","type":"quantitative","axis":{"orient":"right","values":[0,20,40,60,80],"tickSize":-8,"labels":false,"title":null}}}},
      {"mark":{"type":"point","opacity":0},"encoding":{"x":{"field":"h","type":"quantitative","axis":{"orient":"top","values":[0,1,2,3,4,5,6,7,8,9,10,11,12,13,14,15,16,17,18,19,20,21,22,23,24],"tickSize":-4,"labels":false,"title":null}},"y":{"field":"o","type":"quantitative","axis":{"orient":"right","values":[0,4,8,12,16,20,24,28,32,36,40,44,48,52,56,60,64,68,72,76,80],"tickSize":-4,"labels":false,"title":null}}}}
     ],"resolve":{"axis":{"x":"independent","y":"independent"}}},
    {"width":510,"height":244,"title":{"text":"(j) Ammonium in Beijing"},"data":{"name":"d"},"transform":[{"filter":"datum.p=='j'"}],
     "layer":[
      {"mark":{"type":"line","color":"#e3231d","strokeWidth":2.5},"encoding":{"x":{"field":"h","type":"quantitative","scale":{"domain":[0,24],"nice":false},"axis":{"orient":"bottom","values":[0,6,12,18,24],"tickSize":-8,"labelExpr":"['00:00','06:00','12:00','18:00','00:00'][datum.value/6]","title":"Time (BJT)"}},"y":{"field":"r","type":"quantitative","scale":{"domain":[0,40],"nice":false},"axis":{"orient":"left","values":[0,10,20,30,40],"tickSize":-8,"title":null}}}},
      {"mark":{"type":"line","color":"#2b4c9f","strokeWidth":2.5},"encoding":{"x":{"field":"h","type":"quantitative","axis":{"orient":"bottom","values":[0,1,2,3,4,5,6,7,8,9,10,11,12,13,14,15,16,17,18,19,20,21,22,23,24],"tickSize":-4,"labels":false,"title":null}},"y":{"field":"b","type":"quantitative","axis":{"orient":"left","values":[0,2,4,6,8,10,12,14,16,18,20,22,24,26,28,30,32,34,36,38,40],"tickSize":-4,"labels":false,"title":null}}}},
      {"mark":{"type":"point","filled":true,"color":"black","size":75,"opacity":1},"encoding":{"x":{"field":"h","type":"quantitative","axis":{"orient":"top","values":[0,6,12,18,24],"tickSize":-8,"labels":false,"title":null}},"y":{"field":"o","type":"quantitative","axis":{"orient":"right","values":[0,10,20,30,40],"tickSize":-8,"labels":false,"title":null}}}},
      {"mark":{"type":"point","opacity":0},"encoding":{"x":{"field":"h","type":"quantitative","axis":{"orient":"top","values":[0,1,2,3,4,5,6,7,8,9,10,11,12,13,14,15,16,17,18,19,20,21,22,23,24],"tickSize":-4,"labels":false,"title":null}},"y":{"field":"o","type":"quantitative","axis":{"orient":"right","values":[0,2,4,6,8,10,12,14,16,18,20,22,24,26,28,30,32,34,36,38,40],"tickSize":-4,"labels":false,"title":null}}}}
     ],"resolve":{"axis":{"x":"independent","y":"independent"}}}
  ]
}
